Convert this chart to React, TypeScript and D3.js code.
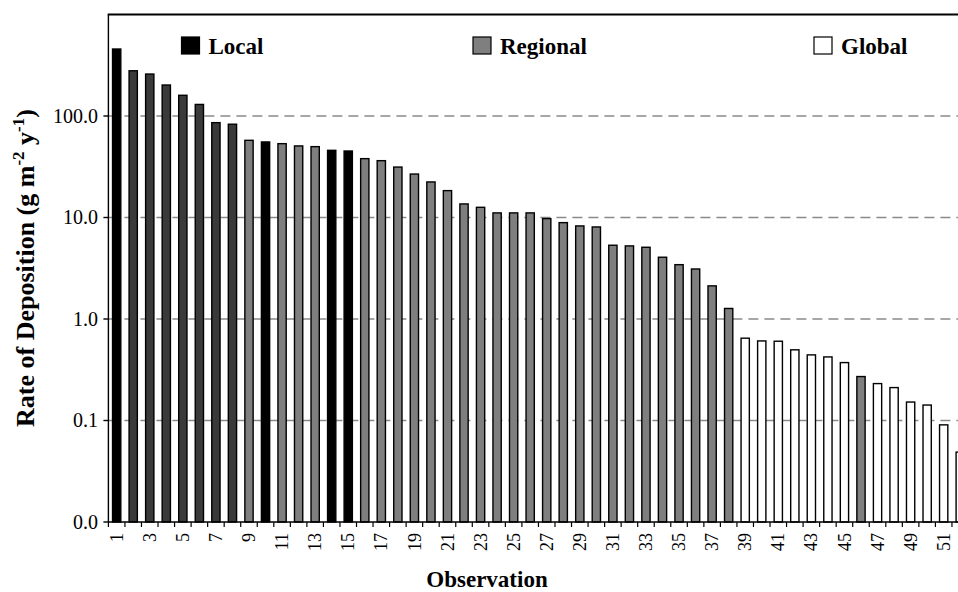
import React, { useEffect, useRef } from 'react';
import * as d3 from 'd3';

// observation number, deposition rate (g m-2 y-1), scale class
const observations = d3.range(1, 53);
const rates = [
  457, 279, 259, 202, 160, 130, 86, 83, 57.6, 55.5,
  53.4, 50.7, 49.9, 45.9, 45.2, 38, 36.3, 31.4, 26.8, 22.4,
  18.4, 13.6, 12.6, 11.1, 11.1, 11.1, 9.75, 8.9, 8.26, 8.07,
  5.33, 5.25, 5.09, 4.06, 3.43, 3.11, 2.12, 1.27, 0.647, 0.608,
  0.604, 0.497, 0.443, 0.423, 0.372, 0.271, 0.231, 0.211, 0.152, 0.142,
  0.0906, 0.0488
];
// L = local, D = local/regional (dark), R = regional, G = global
const classes = [
  'L', 'D', 'D', 'D', 'D', 'D', 'D', 'D', 'R', 'L',
  'R', 'R', 'R', 'L', 'L', 'R', 'R', 'R', 'R', 'R',
  'R', 'R', 'R', 'R', 'R', 'R', 'R', 'R', 'R', 'R',
  'R', 'R', 'R', 'R', 'R', 'R', 'R', 'R', 'G', 'G',
  'G', 'G', 'G', 'G', 'G', 'R', 'G', 'G', 'G', 'G',
  'G', 'G'
];
const yTicks = [0.01, 0.1, 1, 10, 100];
const legendItems = [
  { label: 'Local', key: 'L' },
  { label: 'Regional', key: 'R' },
  { label: 'Global', key: 'G' }
];
const fills = { L: '#000000', D: '#3a3a3a', R: '#7f7f7f', G: '#ffffff' };

const width = 958;
const height = 592;
const margin = { top: 14.5, left: 108.4, bottom: 70 };
const plotRight = 968.5; // last bar is cut off by the frame

const App = () => {
  const svgRef = useRef(null);

  useEffect(() => {
    const svg = d3.select(svgRef.current);
    svg.selectAll('*').remove();
    const font = '"Liberation Serif", "Times New Roman", serif';

    const x = d3.scaleBand()
      .domain(observations.map(String))
      .range([margin.left, plotRight])
      .paddingInner(0.5)
      .paddingOuter(0.25);

    const y = d3.scaleLog()
      .domain([0.01, 1000])
      .range([height - margin.bottom, margin.top]);

    const y0 = y(0.01);

    // gridlines
    svg.append('g')
      .selectAll('line')
      .data(yTicks.slice(1))
      .join('line')
      .attr('x1', margin.left)
      .attr('x2', width)
      .attr('y1', d => y(d))
      .attr('y2', d => y(d))
      .attr('stroke', '#8a8a8a')
      .attr('stroke-width', 1.3)
      .attr('stroke-dasharray', '10,6');

    // bars
    svg.append('g')
      .selectAll('rect')
      .data(observations)
      .join('rect')
      .attr('x', d => x(String(d)))
      .attr('width', x.bandwidth())
      .attr('y', (d, i) => y(rates[i]))
      .attr('height', (d, i) => y0 - y(rates[i]))
      .attr('fill', (d, i) => fills[classes[i]])
      .attr('stroke', '#000')
      .attr('stroke-width', 1.4);

    // axes lines
    svg.append('line')
      .attr('x1', margin.left).attr('x2', margin.left)
      .attr('y1', margin.top).attr('y2', y0)
      .attr('stroke', '#000').attr('stroke-width', 1.4);
    svg.append('line')
      .attr('x1', margin.left).attr('x2', width)
      .attr('y1', y0).attr('y2', y0)
      .attr('stroke', '#000').attr('stroke-width', 1.4);
    svg.append('line')
      .attr('x1', margin.left - 0.7).attr('x2', width)
      .attr('y1', margin.top).attr('y2', margin.top)
      .attr('stroke', '#000').attr('stroke-width', 2.2);

    // y ticks
    const yt = svg.append('g')
      .selectAll('g')
      .data(yTicks)
      .join('g')
      .attr('transform', d => `translate(0,${y(d)})`);
    yt.append('line')
      .attr('x1', margin.left - 5).attr('x2', margin.left)
      .attr('stroke', '#000').attr('stroke-width', 1.4);
    yt.append('text')
      .attr('x', 98)
      .attr('dy', '0.34em')
      .attr('text-anchor', 'end')
      .attr('font-family', font)
      .attr('font-size', 20)
      .text(d => d3.format('.1f')(d));

    // x ticks at band boundaries
    const step = x.step();
    svg.append('g')
      .selectAll('line')
      .data(d3.range(0, observations.length + 1))
      .join('line')
      .attr('x1', k => margin.left + k * step)
      .attr('x2', k => margin.left + k * step)
      .attr('y1', y0).attr('y2', y0 + 5)
      .attr('stroke', '#000').attr('stroke-width', 1.2);

    // x tick labels, odd observations
    svg.append('g')
      .selectAll('text')
      .data(observations.filter(d => d % 2 === 1))
      .join('text')
      .attr('transform', d => `translate(${x(String(d)) + x.bandwidth() / 2},${y0 + 11}) rotate(-90)`)
      .attr('text-anchor', 'end')
      .attr('dy', '0.34em')
      .attr('font-family', font)
      .attr('font-size', 18)
      .text(d => d);

    // axis titles
    svg.append('text')
      .attr('x', 487)
      .attr('y', 587)
      .attr('text-anchor', 'middle')
      .attr('font-family', font)
      .attr('font-weight', 'bold')
      .attr('font-size', 23)
      .text('Observation');

    const yl = svg.append('text')
      .attr('transform', 'translate(34,268) rotate(-90)')
      .attr('text-anchor', 'middle')
      .attr('font-family', font)
      .attr('font-weight', 'bold')
      .attr('font-size', 26);
    yl.append('tspan').text('Rate of Deposition (g m');
    yl.append('tspan').attr('dy', -10).attr('font-size', 17).text('-2');
    yl.append('tspan').attr('dy', 10).text(' y');
    yl.append('tspan').attr('dy', -10).attr('font-size', 17).text('-1');
    yl.append('tspan').attr('dy', 10).text(')');

    // legend
    const legendX = [181.5, 473, 814];
    const lg = svg.append('g')
      .selectAll('g')
      .data(legendItems)
      .join('g')
      .attr('transform', (d, i) => `translate(${legendX[i]},37)`);
    lg.append('rect')
      .attr('width', 18).attr('height', 17)
      .attr('fill', d => fills[d.key])
      .attr('stroke', '#000')
      .attr('stroke-width', 1.2);
    lg.append('text')
      .attr('x', 27)
      .attr('y', 17)
      .attr('font-family', font)
      .attr('font-weight', 'bold')
      .attr('font-size', 23)
      .text(d => d.label);
  }, []);

  return (
    <div style={{ position: 'absolute', left: 0, top: 0 }}>
      <svg ref={svgRef} width={width} height={height} style={{ display: 'block', background: '#fff' }} />
    </div>
  );
};

export default App;
